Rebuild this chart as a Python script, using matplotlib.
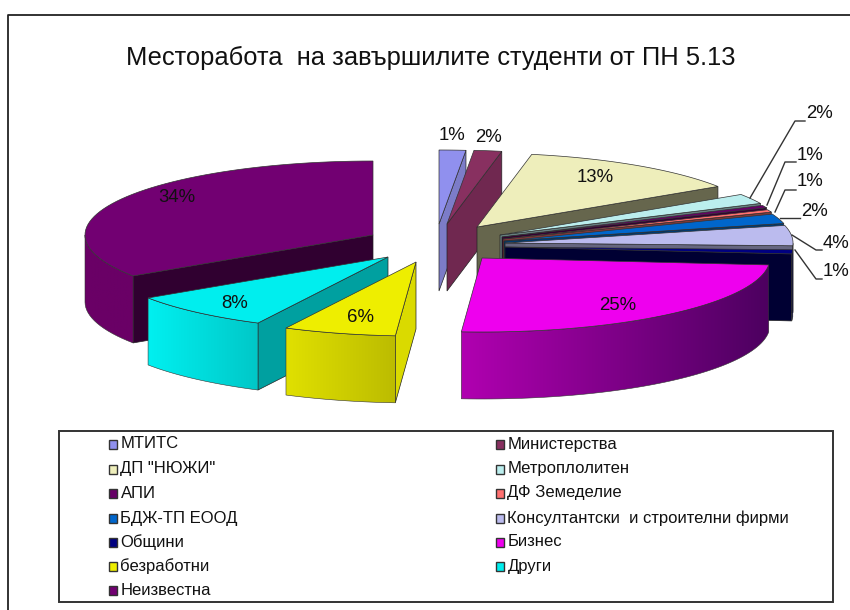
import numpy as np
import matplotlib
matplotlib.use('Agg')
import matplotlib.pyplot as plt
from matplotlib.patches import Polygon, Rectangle
from matplotlib.colors import to_rgb

plt.rcParams['font.family'] = ['Liberation Sans', 'DejaVu Sans']

title = 'Месторабота  на завършилите студенти от ПН 5.13'
names = ['МТИТС', 'Министерства', 'ДП "НЮЖИ"', 'Метроплолитен', 'АПИ', 'ДФ Земеделие',
         'БДЖ-ТП ЕООД', 'Консултантски  и строителни фирми', 'Общини', 'Бизнес',
         'безработни', 'Други', 'Неизвестна']
values = [1.49, 1.55, 12.7, 2.2, 0.55, 0.55, 2.1, 4.4, 0.9, 24.6, 6.3, 8.2, 34.26]

top_colors = ['#9090ee', '#883060', '#eeeebb', '#bbeeee', '#660066', '#ff7070', '#0066cc',
              '#bbbbee', '#000080', '#ee00ee', '#eeee00', '#00eeee', '#720072']
cut_colors = ['#7c7cc8', '#702850', '#66664d', '#668080', '#330033', '#803838', '#003a70',
              '#666680', '#000033', '#800080', '#dada00', '#00a0a0', '#300030']
arc_left = ['#7c7cc8', '#702850', '#99997a', '#88aaaa', '#440044', '#aa4a4a', '#004488',
            '#8888aa', '#000040', '#b000b0', '#e0e000', '#00f0f0', '#6a0066']
arc_right = ['#7c7cc8', '#702850', '#66664d', '#668080', '#330033', '#803838', '#003a70',
             '#666680', '#000033', '#4d0060', '#bcbc00', '#00c8c8', '#6a0066']

# apex of every exploded slice in pixels, and the back-to-front order
apex_x = [439, 447, 477, 500, 502, 503, 504, 505, 505, 482, 416, 388, 373]
apex_y = [224, 224, 227, 235, 237, 239, 241, 243, 247, 258, 262, 257, 235]
draw_order = [12, 11, 10, 0, 1, 2, 3, 4, 5, 6, 7, 8, 9]
rx, ry, depth = 288, 74, 67

label_x = [452, 489, 595, 820, 810, 810, 815, 836, 836, 618, 361, 235, 177]
label_y = [136, 137, 178, 113, 155, 182, 211, 243, 272, 306, 317, 304, 198]
leaders = {3: ([750, 795, 805], [198, 121, 121]),
           4: ([767, 785, 796], [205, 162, 162]),
           5: ([775, 785, 796], [212, 190, 190]),
           6: ([780, 800], [218, 218]),
           7: ([792, 816, 822], [235, 250, 250]),
           8: ([795, 816, 822], [250, 279, 279])}

fig = plt.figure(figsize=(8.5, 6.1), dpi=100)
ax = fig.add_axes([0, 0, 1, 1])

ax.plot([850, 8.5, 8.5], [14.5, 14.5, 610], color='#222222', lw=1.3)
ax.text(430.5, 58, title, fontsize=18.4, ha='center', va='center', color='#111111')

shares = np.array(values) / sum(values) * 360
ends = np.cumsum(shares)
starts = ends - shares
z = 2

for i in draw_order:
    a1, a2 = np.radians(starts[i]), np.radians(ends[i])
    cx, cy = apex_x[i], apex_y[i]
    t = np.linspace(a1, a2, 60)
    ex = cx + rx * np.sin(t)
    ey = cy - ry * np.cos(t)

    # cut faces, only the ones turned to the viewer
    if np.sin(a1) < 0:
        pts = [(cx, cy), (ex[0], ey[0]), (ex[0], ey[0] + depth), (cx, cy + depth)]
        ax.add_patch(Polygon(pts, fc=cut_colors[i], ec='#222222', lw=0.5, zorder=z))
    if np.sin(a2) > 0:
        pts = [(cx, cy), (ex[-1], ey[-1]), (ex[-1], ey[-1] + depth), (cx, cy + depth)]
        ax.add_patch(Polygon(pts, fc=cut_colors[i], ec='#222222', lw=0.5, zorder=z))
    z += 1

    # outer rim with a left to right gradient
    front = np.where(np.cos(t) < 0)[0]
    if len(front) > 1:
        xl, xr = ex[front].min(), ex[front].max()
        c1, c2 = np.array(to_rgb(arc_left[i])), np.array(to_rgb(arc_right[i]))
        grad = np.linspace(0, 1, 64)[None, :, None] * (c2 - c1) + c1
        rim = list(zip(ex[front], ey[front])) + list(zip(ex[front][::-1], ey[front][::-1] + depth))
        im = ax.imshow(grad, extent=[xl, xr, ey[front].max() + depth, ey[front].min()],
                       aspect='auto', interpolation='bilinear', zorder=z)
        im.set_clip_path(Polygon(rim, transform=ax.transData))
        ax.add_patch(Polygon(rim, fill=False, ec='#333333', lw=0.4, zorder=z))
    z += 1

    top = [(cx, cy)] + list(zip(ex, ey))
    ax.add_patch(Polygon(top, fc=top_colors[i], ec='#333333', lw=0.5, zorder=z))
    z += 1

for i, (name, val) in enumerate(zip(names, values)):
    ax.text(label_x[i], label_y[i], f'{max(round(val), 1)}%', fontsize=13.4, ha='center', va='center',
            color='#111111', zorder=100)
    if i in leaders:
        ax.plot(leaders[i][0], leaders[i][1], color='#333333', lw=1.0, zorder=99)

# legend box, filled row by row
ax.add_patch(Rectangle((59, 431), 774, 171, fc='white', ec='#333333', lw=1.4, zorder=101))
row_y = [444, 469, 493, 518, 542, 566, 590.5]
col_x = [109, 496]
for i, name in enumerate(names):
    x0 = col_x[i % 2]
    y0 = row_y[i // 2]
    ax.add_patch(Rectangle((x0, y0 - 4.5), 8, 9, fc=top_colors[i], ec='#333333', lw=1.0, zorder=102))
    ax.text(x0 + 11.5, y0, name, fontsize=12, ha='left', va='center', color='#111111', zorder=102)

ax.set_xlim(0, 850)
ax.set_ylim(610, 0)
ax.axis('off')

fig.savefig('out.png', dpi=100)
